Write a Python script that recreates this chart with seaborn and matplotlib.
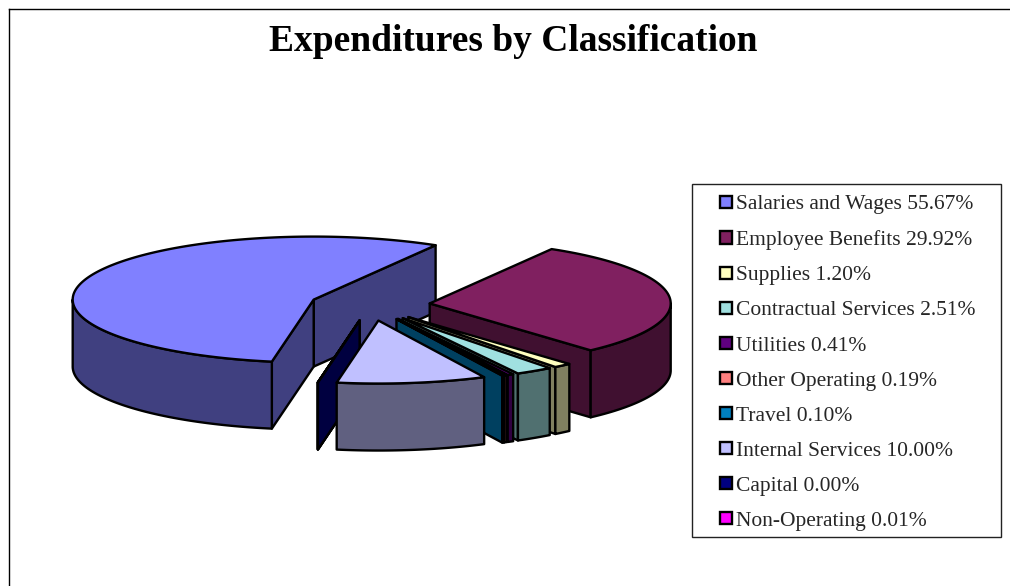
import numpy as np
import matplotlib
matplotlib.use("Agg")
import matplotlib.pyplot as plt
from matplotlib.patches import Patch, Polygon, Rectangle
import seaborn as sns

sns.set_theme(style="white")
plt.rcParams["font.family"] = ["Liberation Serif", "DejaVu Serif"]

# data
categories = ["Salaries and Wages", "Employee Benefits", "Supplies", "Contractual Services",
              "Utilities", "Other Operating", "Travel", "Internal Services", "Capital", "Non-Operating"]
shares = [55.67, 29.92, 1.20, 2.51, 0.41, 0.19, 0.10, 10.00, 0.00, 0.01]
colors = ["#8080FF", "#802060", "#FFFFBF", "#A0E0E0", "#600080",
          "#FF8080", "#0080C0", "#C0C0FF", "#000080", "#FF00FF"]
title = "Expenditures by Classification"

# pie geometry, in pixels of the picture
cx, cy = 370, 305
rx, ry = 241, 63
depth = 67
explode = 60
start_angle = 260
draw_order = [0, 1, 2, 3, 4, 5, 6, 9, 8, 7]
lw = 1.7

palette = sns.color_palette(colors)

fig = plt.figure(figsize=(10.1, 5.86), dpi=100)
ax = fig.add_axes([9 / 1010, 0, 1001 / 1010, 577 / 586])
ax.set_xlim(9, 1010)
ax.set_ylim(586, 9)
ax.set_xticks([])
ax.set_yticks([])
for side in ["right", "bottom"]:
    ax.spines[side].set_visible(False)
for side in ["left", "top"]:
    ax.spines[side].set_color("black")
    ax.spines[side].set_linewidth(1.0)


def rim(ox, oy, a, b, n=80):
    t = np.radians(np.linspace(a, b, n))
    return np.column_stack([ox + rx * np.cos(t), oy - ry * np.sin(t)])


def wall(ox, oy, angle, color, z):
    p = rim(ox, oy, angle, angle, 1)[0]
    pts = [(ox, oy), p, (p[0], p[1] + depth), (ox, oy + depth)]
    ax.add_patch(Polygon(pts, closed=True, facecolor=color, edgecolor="black", lw=lw, joinstyle="round", zorder=z))


total = sum(shares)
sweeps = [s / total * 360 for s in shares]
ends = start_angle - np.cumsum([0] + sweeps[:-1])
starts = ends - np.array(sweeps)

for z, i in enumerate(draw_order):
    t1, t2 = starts[i], ends[i]
    mid = np.radians((t1 + t2) / 2)
    ox = cx + explode * np.cos(mid)
    oy = cy - explode * ry / rx * np.sin(mid)
    top = palette[i]
    dark = tuple(np.array(top) * 0.5)

    # walls along the radii, only those facing the viewer
    if np.sin(np.radians(t1 - 90)) < 0 or sweeps[i] < 0.1:
        wall(ox, oy, t1, dark, z + 2)
    if np.sin(np.radians(t2 + 90)) < 0 or sweeps[i] < 0.1:
        wall(ox, oy, t2, dark, z + 2)

    # outer wall on the front half of the rim
    for lo, hi in [(-180, 0), (180, 360)]:
        a, b = max(t1, lo), min(t2, hi)
        if b > a:
            edge = rim(ox, oy, a, b)
            pts = np.vstack([edge, edge[::-1] + [0, depth]])
            ax.add_patch(Polygon(pts, closed=True, facecolor=dark, edgecolor="black", lw=lw, joinstyle="round", zorder=z + 2))

    # top face
    pts = np.vstack([[ox, oy], rim(ox, oy, t1, t2, 200)])
    ax.add_patch(Polygon(pts, closed=True, facecolor=top, edgecolor="black", lw=lw, joinstyle="round", zorder=z + 2))

ax.text(513, 41, title, ha="center", va="center", fontsize=27, fontweight="bold", color="black")

# legend
ax.add_patch(Rectangle((691.5, 183.5), 309, 353, facecolor="white", edgecolor="#222222", lw=1, zorder=30))
handles = [Patch(facecolor=c, edgecolor="black", lw=lw) for c in palette]
labels = [f"{c} {s:.2f}%" for c, s in zip(categories, shares)]
leg = ax.legend(handles, labels, loc="upper left", bbox_to_anchor=(714, 189), bbox_transform=ax.transData,
                frameon=False, fontsize=15.5, labelspacing=0.745, handlelength=0.52, handleheight=0.52,
                handletextpad=0.2, borderpad=0, borderaxespad=0.3)
leg.set_zorder(31)

plt.savefig("out.png", dpi=100)
